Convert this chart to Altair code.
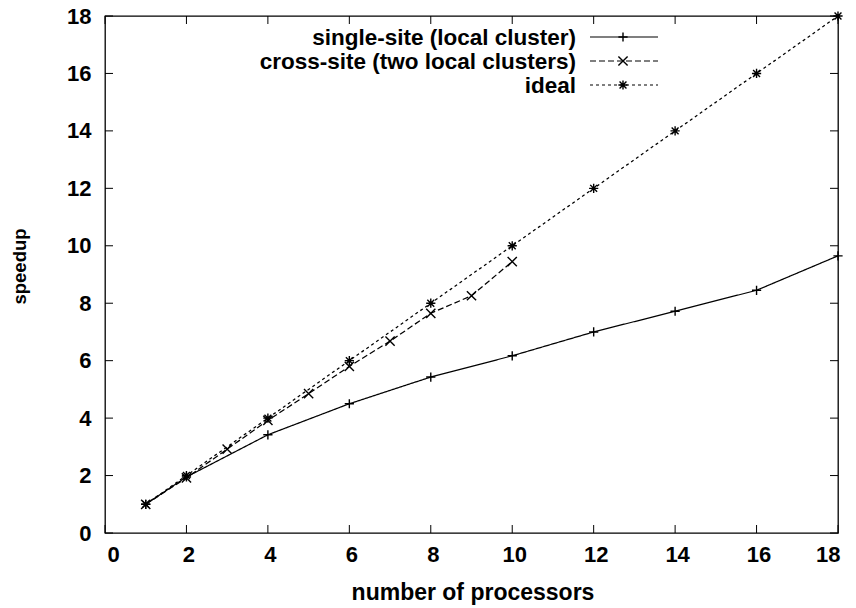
import altair as alt
import pandas as pd

# ---- data ----
single_procs = [1, 2, 4, 6, 8, 10, 12, 14, 16, 18]
single_speedup = [1.0, 1.95, 3.42, 4.5, 5.43, 6.17, 7.0, 7.72, 8.45, 9.65]

cross_procs = [1, 2, 3, 4, 5, 6, 7, 8, 9, 10]
cross_speedup = [1.0, 1.92, 2.92, 3.92, 4.85, 5.8, 6.68, 7.65, 8.26, 9.45]

ideal_procs = [1, 2, 4, 6, 8, 10, 12, 14, 16, 18]
ideal_speedup = [1, 2, 4, 6, 8, 10, 12, 14, 16, 18]

tick_values = [0, 2, 4, 6, 8, 10, 12, 14, 16, 18]

labels = ["single-site (local cluster)", "cross-site (two local clusters)", "ideal"]

W, H = 733, 517
FONT = "Liberation Sans"

PLUS = "M-1,0L1,0M0,-1L0,1"
XSHAPE = "M-1,-1L1,1M-1,1L1,-1"
STAR = "M-1,0L1,0M0,-1L0,1M-0.75,-0.75L0.75,0.75M-0.75,0.75L0.75,-0.75"

series = [
    (single_procs, single_speedup, [1, 0], PLUS),
    (cross_procs, cross_speedup, [6, 3], XSHAPE),
    (ideal_procs, ideal_speedup, [3, 3], STAR),
]

xscale = alt.Scale(domain=[0, 18], nice=False, zero=False)
yscale = alt.Scale(domain=[0, 18], nice=False, zero=False)

xaxis = alt.Axis(values=tick_values, ticks=False, tickSize=0, domain=False, grid=False,
                 labelPadding=11, labelFontSize=22, labelFont=FONT, labelFontWeight="bold",
                 labelColor="black", labelOffset=2, title="number of processors",
                 titleFont=FONT, titleFontSize=23, titleFontWeight="bold", titleColor="black",
                 titleX=W / 2 + 1, titleY=59, titleBaseline="middle", titleAnchor="middle",
                 titleAlign="center")
yaxis = alt.Axis(values=tick_values, ticks=False, tickSize=0, domain=False, grid=False,
                 labelPadding=14, labelFontSize=22, labelFont=FONT, labelFontWeight="bold",
                 labelColor="black", title="speedup", titleFont=FONT, titleFontSize=18.5,
                 titleFontWeight="bold", titleColor="black", titleX=-86, titleY=250,
                 titleAngle=-90, titleBaseline="middle", titleAlign="center")

X = alt.X("x:Q", scale=xscale, axis=xaxis, title="number of processors")
Y = alt.Y("y:Q", scale=yscale, axis=yaxis, title="speedup")

layers = []
for procs, sp, dash, shape in series:
    df = pd.DataFrame({"x": procs, "y": sp})
    line = alt.Chart(df).mark_line(color="black", strokeWidth=1.25,
                                   strokeDash=dash).encode(x=X, y=Y)
    pts = alt.Chart(df).mark_point(shape=shape, size=85, filled=False, color="black",
                                   strokeWidth=1.4, opacity=1).encode(x=X, y=Y)
    layers += [line, pts]

# inward ticks on all four sides (gnuplot style)
tdf = pd.DataFrame({"x": tick_values, "y": tick_values})
TL = 8
bottom = alt.Chart(tdf).mark_rule(color="black", strokeWidth=1).encode(
    x=X, y=alt.value(H), y2=alt.value(H - TL))
top = alt.Chart(tdf).mark_rule(color="black", strokeWidth=1).encode(
    x=X, y=alt.value(0), y2=alt.value(TL))
left = alt.Chart(tdf).mark_rule(color="black", strokeWidth=1).encode(
    y=Y, x=alt.value(0), x2=alt.value(TL))
right = alt.Chart(tdf).mark_rule(color="black", strokeWidth=1).encode(
    y=Y, x=alt.value(W), x2=alt.value(W - TL))
layers += [bottom, top, left, right]

# legend (gnuplot style: right-aligned text, sample on the right)
row_y = [21, 45, 69]
for (procs, sp, dash, shape), lab, ry in zip(series, labels, row_y):
    txt = alt.Chart(pd.DataFrame({"a": [0]})).mark_text(
        text=lab, align="right", baseline="middle", font=FONT, fontSize=22.5,
        fontWeight="bold", color="black").encode(x=alt.value(471), y=alt.value(ry + 1))
    samp = alt.Chart(pd.DataFrame({"a": [0]})).mark_rule(
        color="black", strokeWidth=1.2, strokeDash=dash).encode(
        x=alt.value(485), x2=alt.value(553), y=alt.value(ry))
    mk = alt.Chart(pd.DataFrame({"a": [0]})).mark_point(
        shape=shape, size=85, filled=False, color="black", strokeWidth=1.4,
        opacity=1).encode(x=alt.value(518), y=alt.value(ry))
    layers += [txt, samp, mk]

chart = alt.layer(*layers).properties(
    width=W, height=H,
    autosize=alt.AutoSizeParams(type="none"),
    padding={"left": 105, "top": 16, "right": 18, "bottom": 75},
    background="white",
).configure_view(stroke="black", strokeWidth=1.3)

chart.save("out.html", embed_options={"renderer": "svg", "actions": False})
